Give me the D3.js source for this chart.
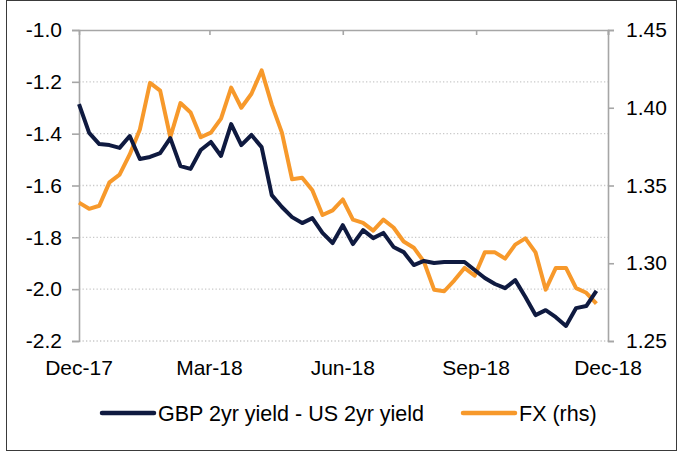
<!DOCTYPE html>
<html>
<head>
<meta charset="utf-8">
<script src="https://cdn.jsdelivr.net/npm/d3@7"></script>
<style>
    body { margin: 0; background: #fff; }
    svg { display: block; font-family: "Liberation Sans", Arial, sans-serif; }
</style>
</head>
<body>
<div id="chart"></div>
<script>

// weekly observations
const weeks = [
    "2017-12-01","2017-12-08","2017-12-15","2017-12-22","2017-12-29",
    "2018-01-05","2018-01-12","2018-01-19","2018-01-26",
    "2018-02-02","2018-02-09","2018-02-16","2018-02-23",
    "2018-03-02","2018-03-09","2018-03-16","2018-03-23","2018-03-30",
    "2018-04-06","2018-04-13","2018-04-20","2018-04-27",
    "2018-05-04","2018-05-11","2018-05-18","2018-05-25",
    "2018-06-01","2018-06-08","2018-06-15","2018-06-22","2018-06-29",
    "2018-07-06","2018-07-13","2018-07-20","2018-07-27",
    "2018-08-03","2018-08-10","2018-08-17","2018-08-24","2018-08-31",
    "2018-09-07","2018-09-14","2018-09-21","2018-09-28",
    "2018-10-05","2018-10-12","2018-10-19","2018-10-26",
    "2018-11-02","2018-11-09","2018-11-16","2018-11-23"
];

// GBP 2yr - US 2yr spread (lhs)
const spread = [
    -1.286,-1.397,-1.440,-1.444,-1.455,-1.409,-1.498,-1.490,-1.475,-1.417,
    -1.525,-1.536,-1.463,-1.432,-1.486,-1.363,-1.444,-1.405,-1.452,-1.637,
    -1.683,-1.722,-1.745,-1.726,-1.783,-1.822,-1.753,-1.826,-1.772,-1.803,
    -1.783,-1.837,-1.857,-1.907,-1.891,-1.899,-1.895,-1.895,-1.895,-1.926,
    -1.957,-1.980,-1.996,-1.965,-2.030,-2.100,-2.081,-2.108,-2.142,-2.073,
    -2.065,-2.007
];

// GBPUSD (rhs)
const fx = [
    1.339,1.335,1.337,1.352,1.357,1.370,1.386,1.416,1.411,1.381,
    1.403,1.397,1.381,1.384,1.393,1.413,1.400,1.409,1.424,1.402,
    1.384,1.354,1.355,1.347,1.331,1.334,1.341,1.328,1.326,1.321,
    1.328,1.323,1.314,1.310,1.301,1.283,1.282,1.289,1.297,1.292,
    1.307,1.307,1.303,1.312,1.316,1.307,1.283,1.297,1.297,1.284,
    1.281,1.274
];

const monthTicks = ["2017-12-01","2018-03-01","2018-06-01","2018-09-01","2018-12-01"];
const leftTicks = [-1.0,-1.2,-1.4,-1.6,-1.8,-2.0,-2.2];
const rightTicks = [1.45,1.40,1.35,1.30,1.25];
const seriesNames = ["GBP 2yr yield - US 2yr yield","FX (rhs)"];


function drawChart(wrap) {

    const width = 681, height = 453;
    const left = 79, right = 608, top = 30, bottom = 341;
    const navy = "#0f1a40", orange = "#f7992b", axisCol = "#a6a6a6";
    const fs = 21;

    const parse = d3.utcParse("%Y-%m-%d");
    // plain hyphen for negatives, like the original
    const fmt = d3.formatLocale({decimal: ".", thousands: ",", grouping: [3], currency: ["", ""], minus: "-"});

    const x = d3.scaleUtc()
        .domain([parse(monthTicks[0]), parse(monthTicks[monthTicks.length-1])])
        .range([left, right]);
    const yL = d3.scaleLinear().domain([-2.2, -1.0]).range([bottom, top]);
    const yR = d3.scaleLinear().domain([1.25, 1.45]).range([bottom, top]);

    const svg = d3.select(wrap).append("svg")
        .attr("width", width)
        .attr("height", height);

    svg.append("rect")
        .attr("x", 6.5).attr("y", 0.5)
        .attr("width", 670).attr("height", 450)
        .attr("fill", "none")
        .attr("stroke", "#3a3a3a")
        .attr("stroke-width", 1);

    // dotted gridlines
    svg.append("g")
        .selectAll("line")
        .data(leftTicks.slice(1))
        .join("line")
            .attr("x1", left).attr("x2", right)
            .attr("y1", d => yL(d)).attr("y2", d => yL(d))
            .attr("stroke", "#c9c9c9")
            .attr("stroke-width", 1.3)
            .attr("stroke-dasharray", "1.3,2.2");

    // left axis
    const axL = svg.append("g")
        .attr("transform", `translate(${left},0)`)
        .call(d3.axisLeft(yL).tickValues(leftTicks).tickSize(7).tickPadding(10).tickFormat(fmt.format(".1f")));
    // right axis
    const axR = svg.append("g")
        .attr("transform", `translate(${right},0)`)
        .call(d3.axisRight(yR).tickValues(rightTicks).tickSize(6).tickPadding(12).tickFormat(fmt.format(".2f")));
    // category axis sits on top, labels below
    const axT = svg.append("g")
        .attr("transform", `translate(0,${top})`)
        .call(d3.axisBottom(x).tickValues(monthTicks.map(parse)).tickSize(5).tickFormat(() => ""));

    [axL, axR, axT].forEach(a => {
        a.select(".domain").attr("stroke", axisCol).attr("stroke-width", 1.6);
        a.selectAll(".tick line").attr("stroke", axisCol).attr("stroke-width", 1.6);
        a.selectAll("text")
            .attr("fill", "#000")
            .attr("font-size", fs)
            .attr("font-family", "Liberation Sans, Arial, sans-serif");
    });
    axT.selectAll(".tick").filter((d, i) => i == 0).remove();

    svg.append("g")
        .selectAll("text")
        .data(monthTicks)
        .join("text")
            .attr("x", d => x(parse(d)))
            .attr("y", 375)
            .attr("text-anchor", "middle")
            .attr("font-size", fs)
            .text(d => d3.utcFormat("%b-%y")(parse(d)));

    const dates = weeks.map(parse);

    const lineL = d3.line()
        .x((d, i) => x(dates[i]))
        .y(d => yL(d));
    const lineR = d3.line()
        .x((d, i) => x(dates[i]))
        .y(d => yR(d));

    svg.append("path")
        .datum(fx)
        .attr("d", lineR)
        .attr("fill", "none")
        .attr("stroke", orange)
        .attr("stroke-width", 4)
        .attr("stroke-linejoin", "round");

    svg.append("path")
        .datum(spread)
        .attr("d", lineL)
        .attr("fill", "none")
        .attr("stroke", navy)
        .attr("stroke-width", 4)
        .attr("stroke-linejoin", "round");

    // legend
    const legend = [
        {name: seriesNames[0], color: navy, x: 102},
        {name: seriesNames[1], color: orange, x: 463}
    ];
    const lg = svg.append("g")
        .selectAll("g")
        .data(legend)
        .join("g")
            .attr("transform", d => `translate(${d.x},413)`);
    lg.append("line")
        .attr("x1", 0).attr("x2", 52)
        .attr("stroke", d => d.color)
        .attr("stroke-width", 4.5)
        .attr("stroke-linecap", "round");
    lg.append("text")
        .attr("x", 56)
        .attr("dy", "0.35em")
        .attr("font-size", 21.5)
        .text(d => d.name);

}

drawChart("#chart");

</script>
</body>
</html>
